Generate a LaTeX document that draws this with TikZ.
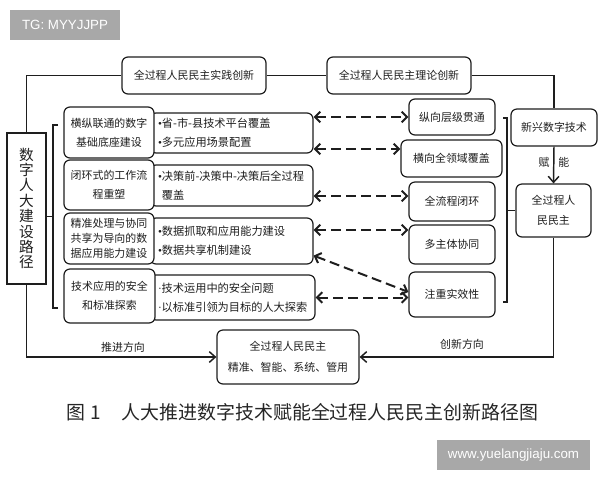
\documentclass[tikz,border=0pt]{standalone}
\usepackage{fontspec}
\setmainfont{Noto Sans CJK SC}
\newfontfamily\wmfont{Liberation Sans}
\newfontfamily\bulfont{Liberation Serif}
\newcommand{\bul}{{\bulfont •}}
\newcommand{\mdot}{{\bulfont ·}}
\usetikzlibrary{arrows.meta,calc}
\definecolor{ink}{HTML}{1E1E1E}
\definecolor{wmgray}{HTML}{A8A8A8}
\begin{document}
\begin{tikzpicture}[x=0.75pt,y=-0.75pt,
  every node/.style={text=ink, inner sep=0pt},
  rbox/.style={draw=ink, line width=0.9pt, rounded corners=4.5pt, fill=white, align=center, font=\fontsize{8.2}{14}\selectfont},
  bbox/.style={draw=ink, line width=0.9pt, rounded corners=4.5pt, fill=white, align=left, inner xsep=6pt, font=\fontsize{8.4}{14}\selectfont},
  lab/.style={font=\fontsize{8.2}{10}\selectfont},
  wm/.style={fill=wmgray, text=white, font=\wmfont\fontsize{10}{12}\selectfont},
  conn/.style={draw=ink, line width=1.1pt},
  arr/.style={-{Straight Barb[length=4.5pt,width=8pt]}},
  darr/.style={draw=ink, line width=1.5pt, dash pattern=on 7.5pt off 3.75pt, {Straight Barb[length=4pt,width=8pt]}-{Straight Barb[length=4pt,width=8pt]}}
]
\fill[white] (0,0) rectangle (600,480);
\useasboundingbox (0,0) rectangle (600,480);

% watermarks
\node[wm, minimum width=82.5pt, minimum height=22.5pt] (wm1) at (65,25) {TG: MYYJJPP};
\node[wm, minimum width=114.75pt, minimum height=22.5pt] (wm2) at (513.5,455) {www.yuelangjiaju.com};

% top boxes
\node[rbox, minimum width=108pt, minimum height=27.75pt] (t1) at (194,75.5) {全过程人民民主实践创新};
\node[rbox, minimum width=108pt, minimum height=27.75pt] (t2) at (399,75.5) {全过程人民民主理论创新};

% left vertical box
\node[draw=ink, line width=0.9pt, fill=white, minimum width=29.25pt, minimum height=113.25pt, align=center, font=\fontsize{11}{11.55}\selectfont] (L) at (26.5,208.5) {数\\字\\人\\大\\建\\设\\路\\径};

% bullet boxes
\node[bbox, text width=110.25pt, minimum height=30pt] (b1) at (231.5,133) {\mbox{\bul 省-市-县技术平台覆盖}\\\mbox{\bul 多元应用场景配置}};
\node[bbox, text width=110.25pt, minimum height=30.75pt] (b2) at (231.5,185.5) {\mbox{\bul 决策前-决策中-决策后全过程}\\\mbox{\phantom{\bul}覆盖}};
\node[bbox, text width=110.25pt, minimum height=34.5pt] (b3) at (231.5,241) {\mbox{\bul 数据抓取和应用能力建设}\\\mbox{\bul 数据共享机制建设}};
\node[bbox, text width=111.75pt, minimum height=33.75pt] (b4) at (232.5,297.5) {\mbox{\mdot 技术运用中的安全问题}\\\mbox{\mdot 以标准引领为目标的人大探索}};

% left label boxes
\node[rbox, minimum width=67.5pt, minimum height=38.25pt] (l1) at (109,132.5) {横纵联通的数字\\基础底座建设};
\node[rbox, minimum width=67.5pt, minimum height=37.5pt] (l2) at (109,185) {闭环式的工作流\\程重塑};
\node[rbox, minimum width=67.5pt, minimum height=38.25pt, font=\fontsize{8.2}{11.25}\selectfont] (l3) at (109,238.5) {精准处理与协同\\共享为导向的数\\据应用能力建设};
\node[rbox, minimum width=68.25pt, minimum height=40.5pt] (l4) at (109.5,296) {技术应用的安全\\和标准探索};

% right column boxes
\node[rbox, minimum width=64.5pt, minimum height=27pt] (r1) at (452,117) {纵向层级贯通};
\node[rbox, minimum width=75.75pt, minimum height=27.75pt] (r2) at (451.5,158.5) {横向全领域覆盖};
\node[rbox, minimum width=64.5pt, minimum height=29.25pt] (r3) at (452,201.5) {全流程闭环};
\node[rbox, minimum width=64.5pt, minimum height=29.25pt] (r4) at (452,244.5) {多主体协同};
\node[rbox, minimum width=64.5pt, minimum height=33.75pt] (r5) at (452,294.5) {注重实效性};

% far right boxes
\node[rbox, minimum width=64.5pt, minimum height=27.75pt] (n1) at (554,127.5) {新兴数字技术};
\node[rbox, minimum width=56.25pt, minimum height=39.75pt, font=\fontsize{8.2}{15}\selectfont] (a) at (553.5,210.5) {全过程人\\民民主};

% bottom box
\node[rbox, minimum width=106.5pt, minimum height=40.5pt, font=\fontsize{8.2}{15.75}\selectfont] (bc) at (288,357) {全过程人民民主\\精准、智能、系统、管用};

% connectors
\draw[conn] (L.north) |- (t1.west);
\draw[conn] (t1.east) -- (t2.west);
\draw[conn] (t2.east) -| (n1.north);
\draw[conn,arr] (n1.south) -- (a.north);
\node[lab] (fn) at (554,162) {赋\hspace{0.82em}能};
\draw[conn,arr] (a.south) |- (bc.east);
\node[lab] (lab2) at (462,344) {创新方向};
\draw[conn,arr] (L.south) |- (bc.west);
\node[lab] (lab1) at (123,347) {推进方向};

% brackets
\draw[conn] (58,125) -- (53,125) -- (53,308) -- (58,308);
\coordinate (lb) at (53,216.5);
\draw[conn] (lb) -- (lb -| L.east);
\draw[conn] (503,118) -- (507,118) -- (507,302) -- (503,302);
\coordinate (rb) at (507,210.5);
\draw[conn] (rb) -- (a.west);

% dashed arrows
\coordinate (p1) at ([yshift=12pt]b1.east);
\draw[darr] (p1) -- (p1 -| r1.west);
\coordinate (p2) at ([yshift=-12pt]b1.east);
\draw[darr] (p2) -- (p2 -| r2.west);
\coordinate (p3) at ([yshift=-7.9pt]b2.east);
\draw[darr] (p3) -- (p3 -| r3.west);
\coordinate (p4) at ([yshift=8.25pt]b3.east);
\draw[darr] (p4) -- (p4 -| r4.west);
\coordinate (p5) at ([yshift=6.75pt]b3.south east);
\coordinate (q5) at ([yshift=1.9pt]r5.west);
\draw[darr] (p5) -- (q5);
\draw[darr] (b4.east) -- (b4.east -| r5.west);

% caption
\node[font=\fontsize{14.2}{16}\selectfont, text=black!85] (cap) at (302.5,412) {图\hspace{0.25em}1\hspace{1.1em}人大推进数字技术赋能全过程人民民主创新路径图};
\end{tikzpicture}
\end{document}
